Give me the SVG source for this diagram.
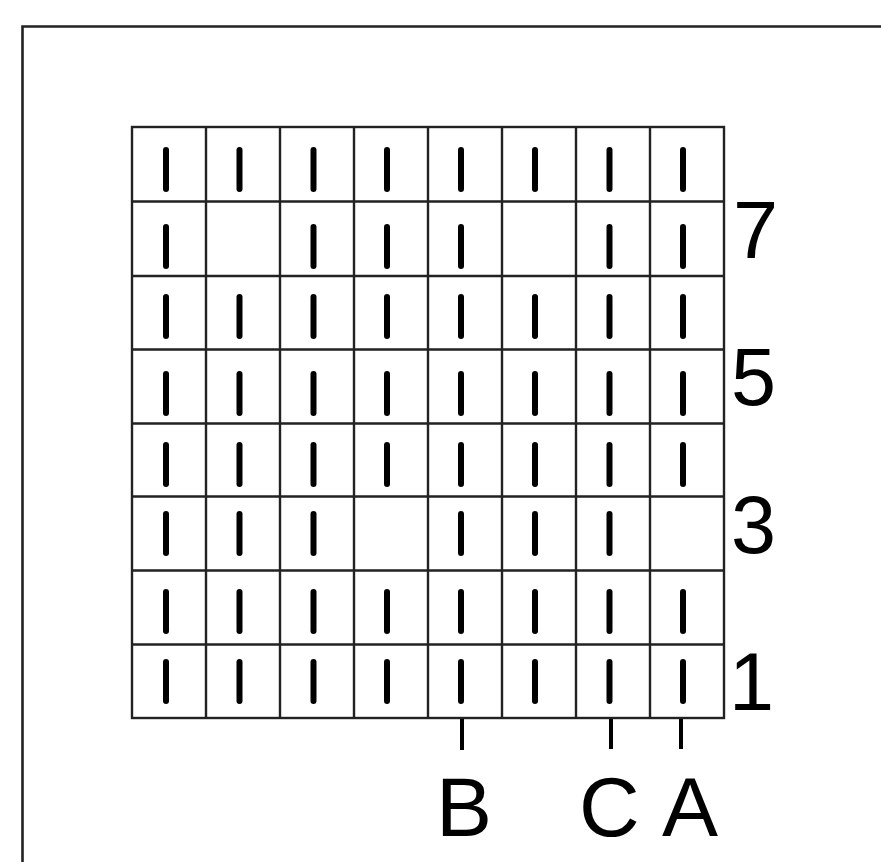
<svg xmlns="http://www.w3.org/2000/svg" width="881" height="862" viewBox="0 0 881 862">
<style>
.frame{fill:none;stroke:#222;stroke-width:2.6}
.grid{fill:none;stroke:#222;stroke-width:2.4}
.mk{stroke:#000;stroke-width:6;stroke-linecap:round}
.tick{stroke:#000;stroke-width:4}
.lbl{font-family:"Liberation Sans",Arial,sans-serif;font-size:81px;fill:#000}
.let{font-family:"Liberation Sans",Arial,sans-serif;font-size:84px;fill:#000}
</style>
<defs>
<line id="m" class="mk" x1="0" y1="0" x2="0" y2="39"/>
</defs>
<rect x="0" y="0" width="881" height="862" fill="#fff"/>
<g id="frame"><path class="frame" d="M22.5,862 V26.5 H881"/></g>
<g id="grid">
<rect class="grid" x="132" y="127" width="592" height="591"/>
<path class="grid" d="M206,127V718M280,127V718M354,127V718M428,127V718M502,127V718M576,127V718M650,127V718M132,201.5H724M132,276H724M132,349.5H724M132,423.5H724M132,496.5H724M132,570.5H724M132,644.5H724"/>
</g>
<g id="marks">
<g id="row8" transform="translate(0,150)">
<use href="#m" x="166"/><use href="#m" x="239.5"/><use href="#m" x="313.5"/><use href="#m" x="387"/><use href="#m" x="461"/><use href="#m" x="535"/><use href="#m" x="609.5"/><use href="#m" x="683"/>
</g>
<g id="row7" transform="translate(0,227)">
<use href="#m" x="166"/><use href="#m" x="313.5"/><use href="#m" x="387"/><use href="#m" x="461"/><use href="#m" x="609.5"/><use href="#m" x="683"/>
</g>
<g id="row6" transform="translate(0,297)">
<use href="#m" x="166"/><use href="#m" x="239.5"/><use href="#m" x="313.5"/><use href="#m" x="387"/><use href="#m" x="461"/><use href="#m" x="535"/><use href="#m" x="609.5"/><use href="#m" x="683"/>
</g>
<g id="row5" transform="translate(0,374)">
<use href="#m" x="166"/><use href="#m" x="239.5"/><use href="#m" x="313.5"/><use href="#m" x="387"/><use href="#m" x="461"/><use href="#m" x="535"/><use href="#m" x="609.5"/><use href="#m" x="683"/>
</g>
<g id="row4" transform="translate(0,445)">
<use href="#m" x="166"/><use href="#m" x="239.5"/><use href="#m" x="313.5"/><use href="#m" x="387"/><use href="#m" x="461"/><use href="#m" x="535"/><use href="#m" x="609.5"/><use href="#m" x="683"/>
</g>
<g id="row3" transform="translate(0,514)">
<use href="#m" x="166"/><use href="#m" x="239.5"/><use href="#m" x="313.5"/><use href="#m" x="461"/><use href="#m" x="535"/><use href="#m" x="609.5"/>
</g>
<g id="row2" transform="translate(0,592)">
<use href="#m" x="166"/><use href="#m" x="239.5"/><use href="#m" x="313.5"/><use href="#m" x="387"/><use href="#m" x="461"/><use href="#m" x="535"/><use href="#m" x="609.5"/><use href="#m" x="683"/>
</g>
<g id="row1" transform="translate(0,662)">
<use href="#m" x="166"/><use href="#m" x="239.5"/><use href="#m" x="313.5"/><use href="#m" x="387"/><use href="#m" x="461"/><use href="#m" x="535"/><use href="#m" x="609.5"/><use href="#m" x="683"/>
</g>
</g>
<g id="connectors">
<line class="tick" x1="462" y1="719" x2="462" y2="750"/>
<line class="tick" x1="611" y1="719" x2="611" y2="749"/>
<line class="tick" x1="681" y1="719" x2="681" y2="749"/>
</g>
<g id="row-labels">
<text class="lbl" x="733" y="258">7</text>
<text class="lbl" x="731" y="405">5</text>
<text class="lbl" x="731" y="553">3</text>
<text class="lbl" x="729" y="710">1</text>
</g>
<g id="col-labels">
<text class="let" x="436" y="836">B</text>
<text class="let" x="579" y="836">C</text>
<text class="let" x="662" y="836">A</text>
</g>
</svg>
